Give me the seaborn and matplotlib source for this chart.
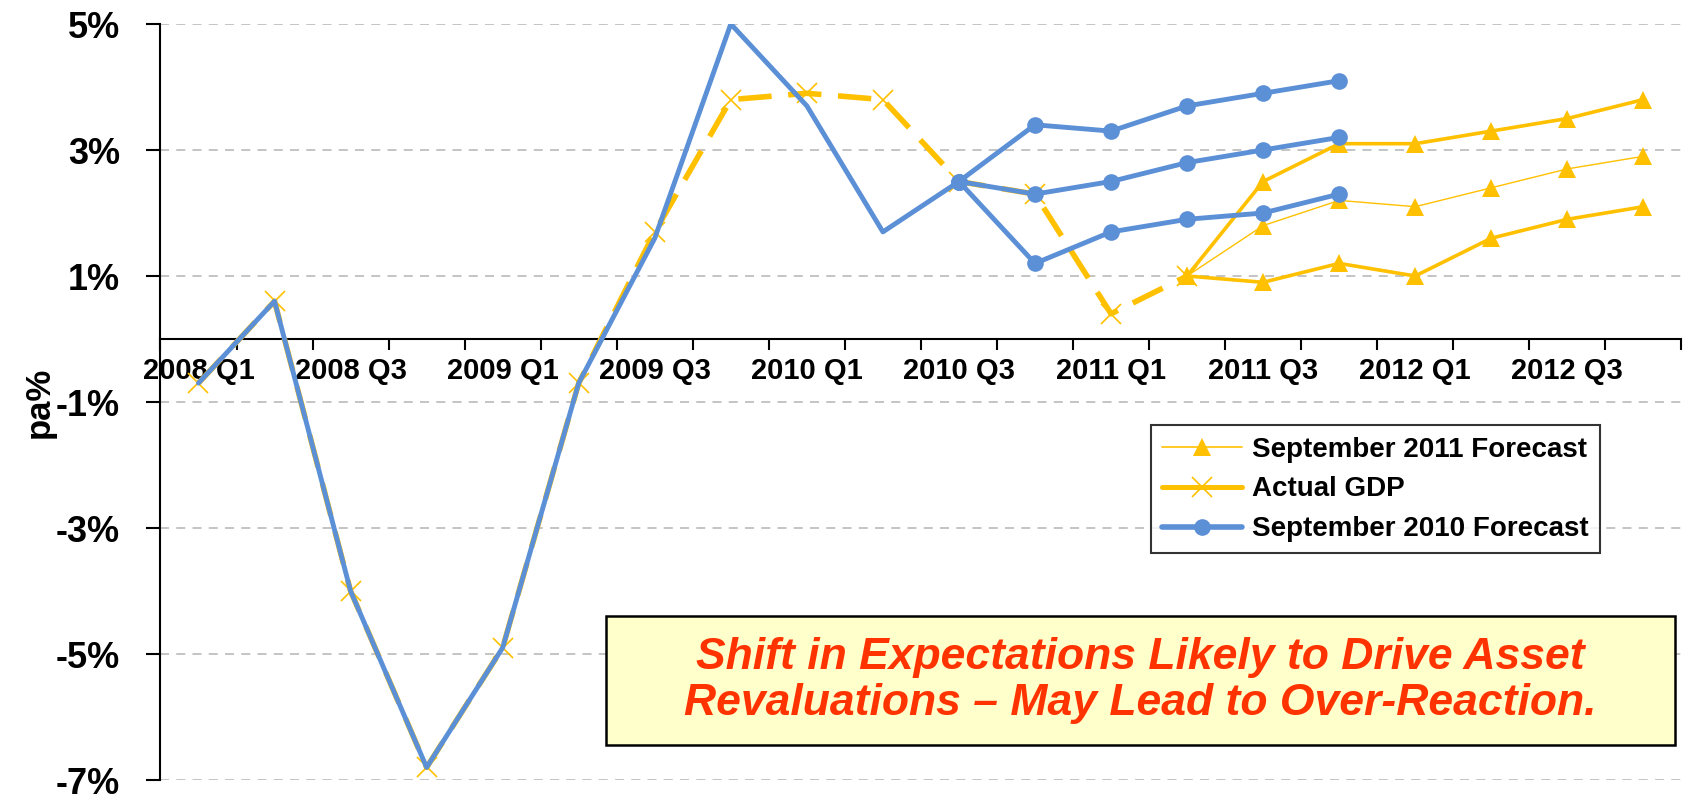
import numpy as np
import pandas as pd
import matplotlib
matplotlib.use("Agg")
import matplotlib.pyplot as plt
from matplotlib.lines import Line2D
from matplotlib.patches import Rectangle
import seaborn as sns

# Quarters on the category axis
quarters = ["2008 Q1", "2008 Q2", "2008 Q3", "2008 Q4",
            "2009 Q1", "2009 Q2", "2009 Q3", "2009 Q4",
            "2010 Q1", "2010 Q2", "2010 Q3", "2010 Q4",
            "2011 Q1", "2011 Q2", "2011 Q3", "2011 Q4",
            "2012 Q1", "2012 Q2", "2012 Q3", "2012 Q4"]
tick_labels = ["2008 Q1", "2008 Q3", "2009 Q1", "2009 Q3", "2010 Q1",
               "2010 Q3", "2011 Q1", "2011 Q3", "2012 Q1", "2012 Q3"]

# Actual GDP, 2008 Q1 - 2011 Q2 (% pa)
actual_gdp = [-0.7, 0.6, -4.0, -6.8, -4.9, -0.7, 1.7, 3.8, 3.9, 3.8, 2.5, 2.3, 0.4, 1.0]

# September 2010 forecast: history 2008 Q1 - 2010 Q3, then three paths 2010 Q3 - 2011 Q4
sep2010_hist = [-0.7, 0.6, -4.0, -6.8, -4.9, -0.7, 1.6, 5.0, 3.7, 1.7, 2.5]
sep2010_upper = [2.5, 3.4, 3.3, 3.7, 3.9, 4.1]
sep2010_mid = [2.5, 2.3, 2.5, 2.8, 3.0, 3.2]
sep2010_lower = [2.5, 1.2, 1.7, 1.9, 2.0, 2.3]

# September 2011 forecast paths, 2011 Q2 - 2012 Q4
sep2011_upper = [1.0, 2.5, 3.1, 3.1, 3.3, 3.5, 3.8]
sep2011_mid = [1.0, 1.8, 2.2, 2.1, 2.4, 2.7, 2.9]
sep2011_lower = [1.0, 0.9, 1.2, 1.0, 1.6, 1.9, 2.1]

yellow = "#FFC000"
blue = "#5B8FD6"

sns.set_style("white")
plt.rcParams["font.family"] = ["Liberation Sans", "DejaVu Sans"]
plt.rcParams["text.color"] = "black"
plt.rcParams["xtick.color"] = "black"
plt.rcParams["ytick.color"] = "black"
plt.rcParams["axes.labelcolor"] = "black"

fig = plt.figure(figsize=(17.07, 8), dpi=100)
ax = fig.add_axes([0.094, 0.025, 0.891, 0.945])

pos = {q: i for i, q in enumerate(quarters)}


def series(values, start):
    i0 = pos[start]
    return pd.DataFrame({"x": np.arange(i0, i0 + len(values)), "y": values})


# Actual GDP - dashed yellow with x markers
d = series(actual_gdp, "2008 Q1")
sns.lineplot(data=d, x="x", y="y", ax=ax, color=yellow, lw=4.0,
             linestyle=(0, (6, 3)), marker="x", markersize=15,
             markeredgewidth=1.2, markeredgecolor=yellow, legend=False, zorder=3)

# September 2011 forecast
for vals, lw in [(sep2011_upper, 2.6), (sep2011_mid, 1.0), (sep2011_lower, 2.6)]:
    d = series(vals, "2011 Q2")
    sns.lineplot(data=d, x="x", y="y", ax=ax, color=yellow, lw=lw,
                 marker="^", markersize=13, markeredgewidth=0,
                 legend=False, zorder=4)

# September 2010 forecast
d = series(sep2010_hist, "2008 Q1")
sns.lineplot(data=d, x="x", y="y", ax=ax, color=blue, lw=3.5,
             legend=False, zorder=5)
for vals in [sep2010_upper, sep2010_mid, sep2010_lower]:
    d = series(vals, "2010 Q3")
    sns.lineplot(data=d, x="x", y="y", ax=ax, color=blue, lw=3.5,
                 marker="o", markersize=12, markeredgewidth=0,
                 legend=False, zorder=5)

# axes look (Excel style)
ax.set_xlim(-0.5, len(quarters) - 0.5)
ax.set_ylim(-7, 5)
ax.spines["top"].set_visible(False)
ax.spines["right"].set_visible(False)
ax.spines["bottom"].set_position(("data", 0))
for s in ["left", "bottom"]:
    ax.spines[s].set_color("black")
    ax.spines[s].set_linewidth(1.5)

ax.set_xticks(np.arange(-0.5, len(quarters), 1))
ax.set_xticklabels([])
ax.set_xticks([pos[t] for t in tick_labels], minor=True)
ax.set_xticklabels(tick_labels, minor=True, fontsize=21, fontweight="bold")
ax.tick_params(axis="x", which="major", direction="out", length=8, width=1.5,
               bottom=True, color="black")
ax.tick_params(axis="x", which="minor", length=0, pad=13)

yt = [5, 3, 1, -1, -3, -5, -7]
ax.set_yticks(yt)
ax.set_yticklabels([f"{v}%" for v in yt], fontsize=26, fontweight="bold")
ax.tick_params(axis="y", direction="out", length=10, width=1.5, left=True,
               color="black", pad=19)
ax.yaxis.grid(True, linestyle=(0, (5, 4)), color="#BFBFBF", lw=1.3)
ax.xaxis.grid(False)
ax.set_axisbelow(True)
ax.set_ylabel("pa%", fontsize=25, fontweight="bold", labelpad=0)
ax.set_xlabel("")

# legend
handles = [
    Line2D([], [], color=yellow, lw=1.2, marker="^", markersize=13, markeredgewidth=0),
    Line2D([], [], color=yellow, lw=3.6, marker="x", markersize=15, markeredgewidth=1.2),
    Line2D([], [], color=blue, lw=4.0, marker="o", markersize=12, markeredgewidth=0),
]
labels = ["September 2011 Forecast", "Actual GDP", "September 2010 Forecast"]
leg = ax.legend(handles, labels, loc="upper left", bbox_to_anchor=(0.651, 0.469),
                prop={"size": 20, "weight": "bold"}, frameon=True, fancybox=False,
                handlelength=2.9, borderpad=0.4, labelspacing=0.5,
                handletextpad=0.35, borderaxespad=0)
leg.get_frame().set_edgecolor("black")
leg.get_frame().set_linewidth(1.5)

# annotation box
bx, by, bw, bh = 0.293, 0.046, 0.703, 0.171
ax.add_patch(Rectangle((bx, by), bw, bh, transform=ax.transAxes,
                       facecolor="#FFFFCC", edgecolor="black", lw=1.8, zorder=6))
ax.text(bx + bw / 2, by + bh / 2,
        "Shift in Expectations Likely to Drive Asset\nRevaluations \u2013 May Lead to Over-Reaction.",
        transform=ax.transAxes, ha="center", va="center", fontsize=32,
        fontweight="bold", fontstyle="italic", color="#FF3300",
        linespacing=1.15, zorder=7)

fig.savefig("out.png", dpi=100)
